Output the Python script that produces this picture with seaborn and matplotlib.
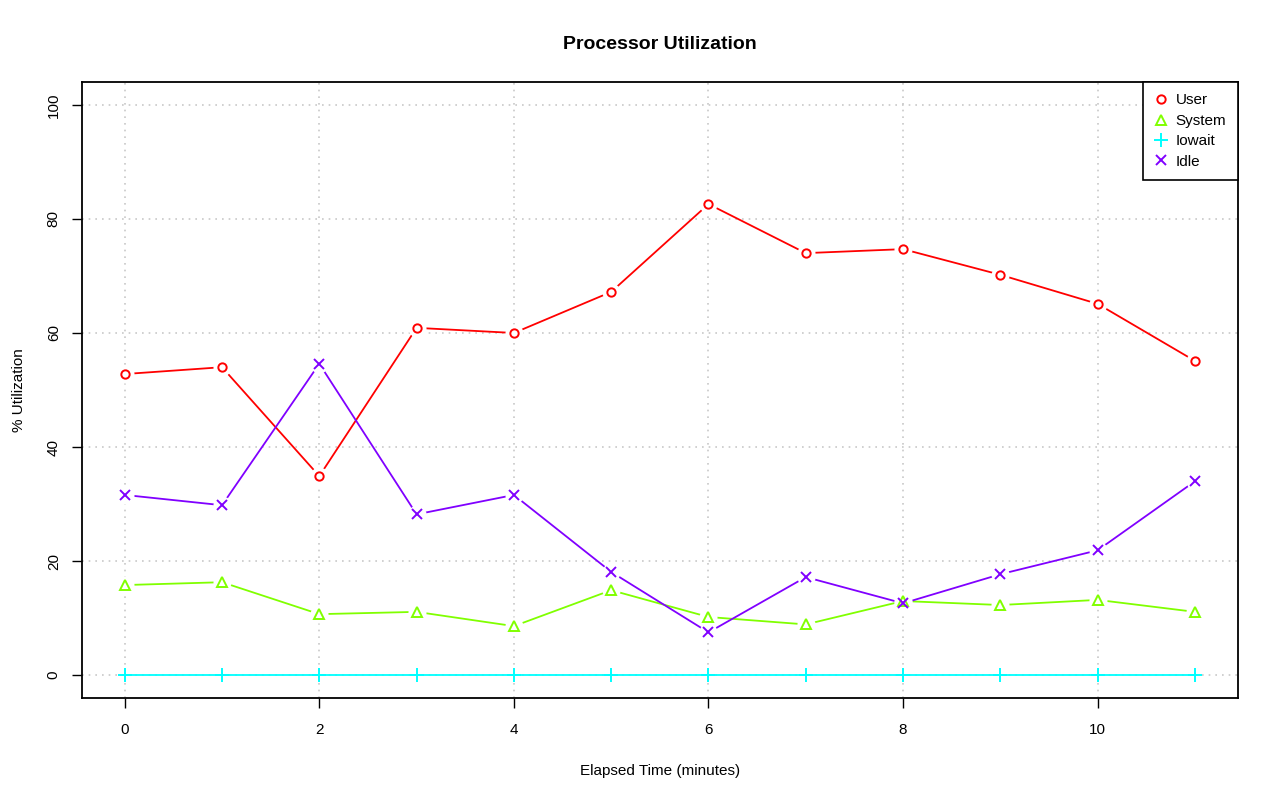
import numpy as np
import pandas as pd
import seaborn as sns
import matplotlib
matplotlib.use("Agg")
import matplotlib.pyplot as plt

# elapsed minutes
minutes = list(range(12))

# % utilization
user = [52.8, 54.0, 34.9, 60.9, 60.0, 67.2, 82.6, 74.0, 74.7, 70.2, 65.1, 55.1]
system = [15.8, 16.3, 10.7, 11.1, 8.6, 14.9, 10.2, 8.9, 13.0, 12.3, 13.2, 11.1]
iowait = [0.0, 0.0, 0.0, 0.0, 0.0, 0.0, 0.0, 0.0, 0.0, 0.0, 0.0, 0.0]
idle = [31.6, 29.8, 54.6, 28.2, 31.6, 18.1, 7.5, 17.2, 12.6, 17.7, 21.9, 34.0]

series_names = ["User", "System", "Iowait", "Idle"]
series_colors = ["#FF0000", "#80FF00", "#00FFFF", "#8000FF"]
series_markers = ["o", "^", "+", "x"]
marker_sizes = [6, 7, 9.5, 6.5]

sns.set_theme(style="white")
plt.rcParams["font.family"] = ["Liberation Sans", "DejaVu Sans"]
plt.rcParams["text.color"] = "black"
plt.rcParams["axes.labelcolor"] = "black"
plt.rcParams["xtick.color"] = "black"
plt.rcParams["ytick.color"] = "black"

df = pd.DataFrame({
    "minute": minutes * 4,
    "value": user + system + iowait + idle,
    "series": np.repeat(series_names, len(minutes)),
})

fig = plt.figure(figsize=(12.8, 8.01), dpi=100)
ax = fig.add_axes([0.064, 0.1286, 0.903, 0.769])

# lines first, then white halos (R type="b" gaps), then the point symbols
for name, color in zip(series_names, series_colors):
    sub = df[df["series"] == name]
    sns.lineplot(data=sub, x="minute", y="value", ax=ax, color=color,
                 linewidth=1.3, zorder=2, legend=False)

for name, color, marker, ms in zip(series_names, series_colors,
                                   series_markers, marker_sizes):
    sub = df[df["series"] == name]
    if name != "Iowait":
        ax.plot(sub["minute"], sub["value"], linestyle="none", marker="o",
                markersize=13, mfc="white", mec="none", zorder=2.5)
    ax.plot(sub["minute"], sub["value"], linestyle="none", marker=marker,
            markersize=ms, mfc="none", mec=color, mew=1.4, zorder=3,
            label=name)

ax.set_xlim(-0.44, 11.44)
ax.set_ylim(-4, 104)
ax.set_xticks(range(0, 11, 2))
ax.set_yticks(range(0, 101, 20))
ax.set_xlabel("")
ax.set_ylabel("")
ax.grid(True, color="#c8c8c8", linestyle=(0, (1, 3)), linewidth=1.2)
ax.set_axisbelow(True)

for s in ax.spines.values():
    s.set_color("black")
    s.set_linewidth(1.3)

ax.tick_params(axis="both", direction="out", length=7.2, width=1,
               color="black", labelsize=11, bottom=True, left=True)
ax.tick_params(axis="x", pad=11)
ax.tick_params(axis="y", pad=8)
for lbl in ax.get_yticklabels():
    lbl.set_rotation(90)
    lbl.set_va("center")

ax.set_xlabel("Elapsed Time (minutes)", fontsize=11, labelpad=19)
ax.set_ylabel("% Utilization", fontsize=11, labelpad=15)
ax.set_title("Processor Utilization", fontsize=14, fontweight="bold", pad=24)

leg = ax.legend(loc="upper right", borderaxespad=0, fancybox=False,
                framealpha=1, edgecolor="black", fontsize=11,
                handlelength=0.9, handletextpad=0.5, labelspacing=0.42,
                borderpad=0.75)
leg.get_frame().set_linewidth(1.2)

fig.savefig("out.png", dpi=100)
